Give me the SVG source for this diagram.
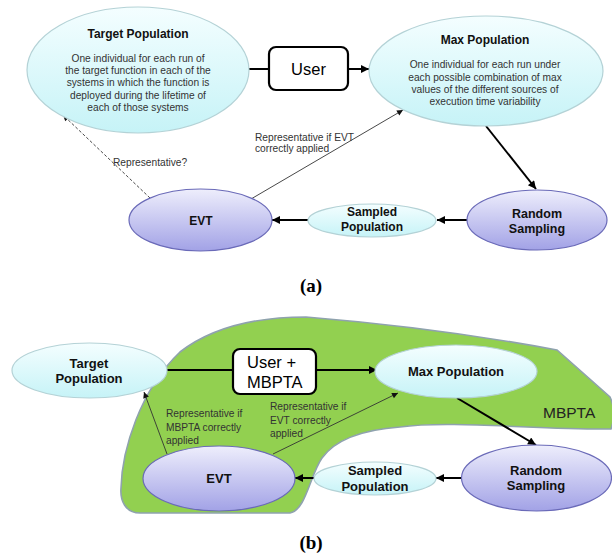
<svg xmlns="http://www.w3.org/2000/svg" width="612" height="556" viewBox="0 0 612 556">
<defs>
<linearGradient id="cy" x1="0" y1="0" x2="0" y2="1">
<stop offset="0" stop-color="#f4feff"/>
<stop offset="1" stop-color="#c6f3f7"/>
</linearGradient>
<linearGradient id="lv" x1="0" y1="0" x2="0" y2="1">
<stop offset="0" stop-color="#eeeefc"/>
<stop offset="1" stop-color="#a2a2e6"/>
</linearGradient>
<marker id="ah" viewBox="0 0 10 10" refX="10" refY="5" markerWidth="10" markerHeight="8" markerUnits="userSpaceOnUse" orient="auto">
<path d="M0,0 L10,5 L0,10 z" fill="#000"/>
</marker>
<marker id="ahs" viewBox="0 0 10 10" refX="10" refY="5" markerWidth="8" markerHeight="6" markerUnits="userSpaceOnUse" orient="auto">
<path d="M0,0 L10,5 L0,10 z" fill="#111"/>
</marker>
</defs>
<style>
.cyan{fill:url(#cy);stroke:#b4d2d6;stroke-width:1.2}
.lav{fill:url(#lv);stroke:#6a6ab8;stroke-width:1.2}
.box{fill:#fff;stroke:#000;stroke-width:2.2}
.t{font-family:"Liberation Sans",Arial,sans-serif;text-anchor:middle}
.b{font-weight:bold;fill:#111}
.body{font-size:10.2px;fill:#333}
.lab{font-family:"Liberation Sans",Arial,sans-serif;font-size:10.2px;fill:#333}
.thick{stroke:#000;stroke-width:2;fill:none}
.thin{stroke:#333;stroke-width:0.9;fill:none}
.cap{font-family:"Liberation Serif","DejaVu Serif",serif;font-weight:bold;font-size:19px;text-anchor:middle;fill:#000}
</style>

<!-- (a) -->
<g id="connectors-a">
<line class="thick" x1="249" y1="69" x2="269" y2="69"/>
<line class="thick" x1="348" y1="69" x2="369" y2="69" marker-end="url(#ah)"/>
<line class="thick" x1="486" y1="126" x2="536" y2="189" marker-end="url(#ah)"/>
<line class="thick" x1="467" y1="220" x2="437" y2="220" marker-end="url(#ah)"/>
<line class="thick" x1="308" y1="220" x2="272" y2="220" marker-end="url(#ah)"/>
<line class="thin" x1="150" y1="198" x2="63" y2="115" stroke-dasharray="3,2" marker-end="url(#ahs)"/>
<line class="thin" x1="251" y1="199" x2="403" y2="110" marker-end="url(#ahs)"/>
<text class="lab" x="113" y="165.5">Representative?</text>
<text class="lab" x="255" y="140.5">Representative if EVT</text>
<text class="lab" x="255" y="152">correctly applied</text>
</g>
<g id="a-target">
<ellipse class="cyan" cx="138" cy="70" rx="111" ry="63"/>
<text class="t b" x="138" y="38" font-size="12">Target Population</text>
<text class="t body" x="138" y="61.5">One individual for each run of</text>
<text class="t body" x="138" y="74">the target function in each of the</text>
<text class="t body" x="138" y="86.3">systems in which the function is</text>
<text class="t body" x="138" y="98.5">deployed during the lifetime of</text>
<text class="t body" x="138" y="110.8">each of those systems</text>
</g>
<g id="a-user">
<rect class="box" x="269" y="47" width="79" height="43" rx="7"/>
<text class="t" x="308.5" y="75" font-size="16.5" fill="#000">User</text>
</g>
<g id="a-max">
<ellipse class="cyan" cx="486" cy="71" rx="117" ry="55"/>
<text class="t b" x="485" y="44" font-size="12">Max Population</text>
<text class="t body" x="485" y="67.5">One individual for each run under</text>
<text class="t body" x="485" y="80.5">each possible combination of max</text>
<text class="t body" x="485" y="92.8">values of the different sources of</text>
<text class="t body" x="485" y="105.3">execution time variability</text>
</g>
<g id="a-random">
<ellipse class="lav" cx="537" cy="220" rx="70" ry="30"/>
<text class="t b" x="537" y="217.5" font-size="12.5">Random</text>
<text class="t b" x="537" y="232.5" font-size="12.5">Sampling</text>
</g>
<g id="a-sampled">
<ellipse class="cyan" cx="372" cy="220.5" rx="64" ry="16.5"/>
<text class="t b" x="372" y="216" font-size="12">Sampled</text>
<text class="t b" x="372" y="231" font-size="12">Population</text>
</g>
<g id="a-evt">
<ellipse class="lav" cx="200.5" cy="220" rx="71.5" ry="31"/>
<text class="t b" x="201" y="224.5" font-size="12">EVT</text>
</g>
<text class="cap" x="311" y="292">(a)</text>

<!-- (b) -->
<g id="b-mbpta-region">
<path d="M306,317 Q440,328 557,350 L610,397 Q617,412 611,429 C540,430 450,420 400,427 C360,430 335,440 322,458 C310,475 306,510 290,513 L140,513 C125,513 120,500 121,488 C122,450 140,390 180,352 C215,325 260,317 306,317 Z" fill="#92d050" stroke="#8fa2ae" stroke-width="1.6"/>
<text x="543" y="418" font-family="Liberation Sans,Arial,sans-serif" font-size="15.5" fill="#222">MBPTA</text>
</g>
<g id="connectors-b">
<line class="thick" x1="167" y1="370" x2="233" y2="370"/>
<line class="thick" x1="316" y1="370" x2="377" y2="370" marker-end="url(#ah)"/>
<line class="thick" x1="457" y1="398" x2="536" y2="445" marker-end="url(#ah)"/>
<line class="thick" x1="461" y1="478" x2="436" y2="478" marker-end="url(#ah)"/>
<line class="thick" x1="314" y1="478" x2="295" y2="478" marker-end="url(#ah)"/>
<line class="thin" x1="167" y1="454" x2="144" y2="392" marker-end="url(#ahs)"/>
<line class="thin" x1="273" y1="454" x2="398" y2="393" marker-end="url(#ahs)"/>
<text class="lab" x="166" y="417" font-size="10.6">Representative  if</text>
<text class="lab" x="166" y="430.5" font-size="10.6">MBPTA correctly</text>
<text class="lab" x="166" y="444" font-size="10.6">applied</text>
<text class="lab" x="270" y="410" font-size="10.6">Representative  if</text>
<text class="lab" x="270" y="423.5" font-size="10.6">EVT correctly</text>
<text class="lab" x="270" y="437" font-size="10.6">applied</text>
</g>
<g id="b-target">
<ellipse class="cyan" cx="89.5" cy="370.5" rx="77.5" ry="27.5"/>
<text class="t b" x="89" y="367.5" font-size="13">Target</text>
<text class="t b" x="89" y="383" font-size="13">Population</text>
</g>
<g id="b-user">
<rect class="box" x="233" y="349" width="83" height="45" rx="7"/>
<text x="247" y="368" font-family="Liberation Sans,Arial,sans-serif" font-size="16.5" fill="#000">User +</text>
<text x="247" y="388" font-family="Liberation Sans,Arial,sans-serif" font-size="16.5" fill="#000">MBPTA</text>
</g>
<g id="b-max">
<ellipse class="cyan" cx="456" cy="371.5" rx="81" ry="26.5"/>
<text class="t b" x="456" y="376" font-size="13">Max Population</text>
</g>
<g id="b-random">
<ellipse class="lav" cx="536.5" cy="478" rx="75" ry="33"/>
<text class="t b" x="536" y="474.5" font-size="13">Random</text>
<text class="t b" x="536" y="490" font-size="13">Sampling</text>
</g>
<g id="b-sampled">
<ellipse class="cyan" cx="375" cy="478.5" rx="61" ry="16.5"/>
<text class="t b" x="375" y="474.5" font-size="13">Sampled</text>
<text class="t b" x="375" y="490.5" font-size="13">Population</text>
</g>
<g id="b-evt">
<ellipse class="lav" cx="219" cy="478.5" rx="76" ry="32.5"/>
<text class="t b" x="219" y="483" font-size="13">EVT</text>
</g>
<text class="cap" x="311" y="549">(b)</text>
</svg>
